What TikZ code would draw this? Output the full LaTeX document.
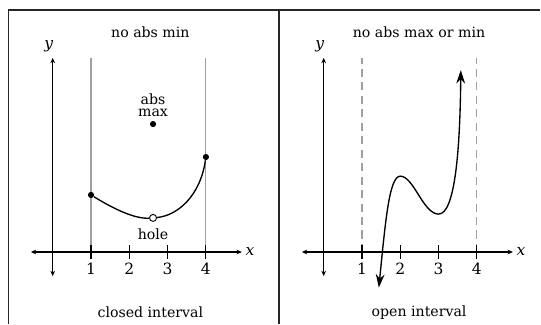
\documentclass[tikz,border=0pt]{standalone}
\usepackage{fontspec}
\setmainfont{DejaVu Serif}
\usetikzlibrary{arrows.meta, positioning}

\begin{document}
\begin{tikzpicture}[
  axis/.style={line width=0.8pt, {Stealth[length=4pt, width=3.5pt]}-{Stealth[length=4pt, width=3.5pt]}},
  guide/.style={draw=gray!75, line width=0.8pt},
  curve/.style={line width=1pt},
  dot/.style={circle, fill, inner sep=0pt, minimum size=4.6pt},
  hole/.style={circle, draw, fill=white, line width=0.7pt, inner sep=0pt, minimum size=5.2pt},
  lbl/.style={font=\fontsize{10.5}{10.5}\selectfont, inner sep=1pt},
  num/.style={font=\fontsize{11.5}{11.5}\selectfont, inner sep=1pt},
  var/.style={font=\fontsize{11.5}{11.5}\selectfont\itshape, inner sep=1pt}
]
  \useasboundingbox (-1.376,-1.88) rectangle (12.75,6.58);
  % frame
  \draw[line width=1.2pt, black!85] (-1.154,-1.88) -- (-1.154,6.32) -- (12.72,6.32);
  \draw[line width=1.2pt, black!85] (5.91,-1.88) -- (5.91,6.32);

  % closed interval
  \node[lbl] (title1) at (2.55,5.75) {no abs min};
  \node[lbl] (foot1) at (2.55,-1.57) {closed interval};
  \draw[guide] (1,0) -- (1,5.07);
  \draw[guide] (4,0) -- (4,5.07);
  \draw[axis] (-0.57,0) -- (4.94,0);
  \draw[axis] (0,-0.63) -- (0,5.07);
  \node[var] (xa) at (5.15,0.02) {x};
  \node[var] (ya) at (-0.1,5.38) {y};
  \draw[line width=0.8pt] (1,-0.18) -- (1,0.18) (2,-0.18) -- (2,0.18)
    (3,-0.18) -- (3,0.18) (4,-0.18) -- (4,0.18);
  \node[num] (t1) at (1,-0.43) {1};
  \node[num] (t2) at (2,-0.43) {2};
  \node[num] (t3) at (3,-0.43) {3};
  \node[num] (t4) at (4,-0.43) {4};
  \node[dot] (left) at (1,1.49) {};
  \node[dot] (right) at (4,2.48) {};
  \node[hole] (gap) at (2.62,0.89) {};
  \draw[curve] (left) .. controls (1.6,1.12) and (2.15,0.86) .. (gap);
  \draw[curve] (gap) .. controls (3.25,0.95) and (3.85,1.45) .. (right);
  \node[dot] (max) at (2.62,3.34) {};
  \node[lbl, align=center, font=\fontsize{10.5}{9}\selectfont] (maxlbl) at (2.62,3.83) {abs\\max};
  \node[lbl] (holelbl) at (2.62,0.46) {hole};

  % open interval
  \begin{scope}[xshift=7.076cm]
    \node[lbl] (title2) at (2.49,5.75) {no abs max or min};
    \node[lbl] (foot2) at (2.49,-1.57) {open interval};
    \draw[guide, dashed, dash pattern=on 6pt off 4pt] (1,0) -- (1,5.07);
    \draw[guide, dashed, dash pattern=on 6pt off 4pt] (4,0) -- (4,5.07);
    \draw[axis] (-0.57,0) -- (4.94,0);
    \draw[axis] (0,-0.63) -- (0,5.07);
    \node[var] (xb) at (5.15,0.02) {x};
    \node[var] (yb) at (-0.1,5.38) {y};
    \draw[line width=0.8pt] (1,-0.18) -- (1,0.18) (2,-0.18) -- (2,0.18)
      (3,-0.18) -- (3,0.18) (4,-0.18) -- (4,0.18);
    \node[num] (u1) at (1,-0.43) {1};
    \node[num] (u2) at (2,-0.43) {2};
    \node[num] (u3) at (3,-0.43) {3};
    \node[num] (u4) at (4,-0.43) {4};
    \coordinate (low) at (1.44,-0.93);
    \coordinate (peak) at (2,1.98);
    \coordinate (dip) at (3,0.99);
    \coordinate (high) at (3.58,4.75);
    \draw[curve, {Stealth[length=10pt, width=6.5pt]}-{Stealth[length=10pt, width=6.5pt]}]
      (low) .. controls (1.62,0.9) and (1.72,1.98) .. (peak)
      .. controls (2.35,1.98) and (2.6,0.99) .. (dip)
      .. controls (3.42,0.99) and (3.56,2.6) .. (high);
  \end{scope}
\end{tikzpicture}
\end{document}
